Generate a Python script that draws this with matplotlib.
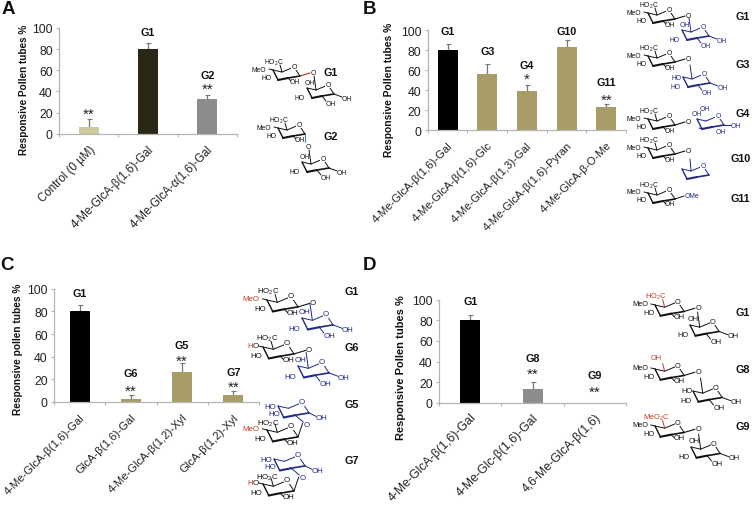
import matplotlib
matplotlib.use("Agg")
import matplotlib.pyplot as plt

plt.rcParams['font.family'] = ['Liberation Sans', 'DejaVu Sans']
plt.rcParams['mathtext.default'] = 'regular'

W, H = 752, 506
BLACK, OLIVE, GREY, PALE, DARK = '#000000', '#a89c68', '#8c8c8c', '#cfc9a0', '#2a2716'

# --- data ---
a_labels = ['Control (0 µM)', '4-Me-GlcA-β(1,6)-Gal', '4-Me-GlcA-α(1,6)-Gal']
a_values = [6, 80, 33]
a_errors = [7.5, 5.5, 4]
a_groups = ['', 'G1', 'G2']
a_stars = ['**', '', '**']

b_labels = ['4-Me-GlcA-β(1,6)-Gal', '4-Me-GlcA-β(1,6)-Glc', '4-Me-GlcA-β(1,3)-Gal',
            '4-Me-GlcA-β(1,6)-Pyran', '4-Me-GlcA-β-O-Me']
b_values = [80, 56, 39.5, 83, 23]
b_errors = [6, 10, 6, 7.5, 3.5]
b_groups = ['G1', 'G3', 'G4', 'G10', 'G11']
b_stars = ['', '', '*', '', '**']

c_labels = ['4-Me-GlcA-β(1,6)-Gal', 'GlcA-β(1,6)-Gal', '4-Me-GlcA-β(1,2)-Xyl', 'GlcA-β(1,2)-Xyl']
c_values = [80, 3, 26.5, 6.5]
c_errors = [6, 3.5, 7.5, 3.5]
c_groups = ['G1', 'G6', 'G5', 'G7']
c_stars = ['', '**', '**', '**']

d_labels = ['4-Me-GlcA-β(1,6)-Gal', '4-Me-Glc-β(1,6)-Gal', '4,6-Me-GlcA-β(1,6)']
d_values = [80, 13.5, 0]
d_errors = [5.5, 6.5, 0]
d_groups = ['G1', 'G8', 'G9']
d_stars = ['', '**', '**']

fig = plt.figure(figsize=(W / 100, H / 100), dpi=100, facecolor='white')


def panel(left, right, y0, y100, labels, values, errors, colors, groups, stars,
          group_y, star_y, ylabel, ylabel_x, ylabel_y, ylabel_size, tick_size, pad=7, bar_px=20):
    ax = fig.add_axes([left / W, 1 - y0 / H, (right - left) / W, (y0 - y100) / H])
    n = len(values)
    xs = list(range(n))
    width = bar_px / ((right - left) / n)
    ax.bar(xs, values, width=width, color=colors, linewidth=0, zorder=2)
    for i in xs:
        if values[i] > 0:
            ax.errorbar(i, values[i], yerr=[[0], [errors[i]]], color='#777777', elinewidth=0.9,
                        capsize=1.8, capthick=0.8, zorder=1)
        if groups[i]:
            ax.text(i, group_y[i], groups[i], ha='center', va='center', fontsize=7.8,
                    fontweight='bold', color='#111111', clip_on=False)
        if stars[i]:
            ax.text(i, star_y[i], stars[i], ha='center', va='center', fontsize=11,
                    color='#222222', clip_on=False)
    ax.set_xlim(-0.5, n - 0.5)
    ax.set_ylim(0, 100)
    ax.set_yticks(range(0, 101, 20))
    ax.set_xticks(xs)
    ax.set_xticklabels(labels, rotation=45, ha='right', rotation_mode='anchor',
                       fontsize=tick_size, color='#222222')
    ax.set_xticks([i - 0.5 for i in range(n + 1)], minor=True)
    ax.tick_params(axis='x', which='major', length=0, pad=pad)
    ax.tick_params(axis='x', which='minor', length=2.5, width=0.8, color='#b5b5b5')
    ax.tick_params(axis='y', length=2.5, width=0.8, color='#b5b5b5', labelsize=8.8,
                   labelcolor='#222222', pad=2)
    for s in ('top', 'right'):
        ax.spines[s].set_visible(False)
    for s in ('left', 'bottom'):
        ax.spines[s].set_color('#b5b5b5')
        ax.spines[s].set_linewidth(0.9)
    fig.text(ylabel_x / W, 1 - ylabel_y / H, ylabel, rotation=90, ha='center',
             va='center', fontsize=ylabel_size, fontweight='bold', color='#111111')
    return ax


panel(59, 237, 134.7, 29, a_labels, a_values, a_errors, [PALE, DARK, GREY], a_groups, a_stars,
      [0, 96, 55.5], [18.5, 0, 42.5], 'Responsive Pollen tubes %', 24, 90, 7.2, 8.3)
panel(427.7, 626, 131, 31, b_labels, b_values, b_errors, [BLACK, OLIVE, OLIVE, OLIVE, OLIVE],
      b_groups, b_stars, [99, 79, 65, 99, 48], [0, 0, 51, 0, 30], 'Responsive Pollen tubes %',
      389, 90, 7.4, 8.1)
panel(54, 259, 403, 289.7, c_labels, c_values, c_errors, [BLACK, OLIVE, OLIVE, OLIVE], c_groups,
      c_stars, [96.5, 26, 50, 26.5], [0, 10, 36, 13], 'Responsive pollen tubes %', 18, 349, 7.3, 8.1)
panel(439, 626, 403.7, 300.7, d_labels, d_values, d_errors, [BLACK, GREY, GREY], d_groups, d_stars,
      [98.7, 43, 27], [0, 28.5, 10.5], 'Responsive Pollen tubes %', 401, 368, 8.0, 8.9, pad=6)

# --- overlay in pixel coordinates: panel letters and chemical structures ---
ov = fig.add_axes([0, 0, 1, 1], facecolor='none')
ov.set_xlim(0, W)
ov.set_ylim(H, 0)
ov.axis('off')

for letter, lx, ly in [('A', 8, 9), ('B', 369.5, 9), ('C', 7, 265), ('D', 370, 265)]:
    ov.text(lx, ly, letter, fontsize=13.5, fontweight='bold', ha='center', va='center', color='#111111')

BLUE = '#1f2a86'
RED = '#c0392b'
KC = '#111111'
C4, C5, O5, C1, C2, C3 = (0, 0), (9, 2), (21, -3), (27, 6), (15, 8), (5, 10)
S = 1.0


def seg(x, y, p, q, color, lw=0.7):
    ov.plot([x + S * p[0], x + S * q[0]], [y + S * p[1], y + S * q[1]], color=color, lw=lw,
            solid_capstyle='round')


def lab(x, y, dx, dy, s, color=KC):
    ov.text(x + S * dx, y + S * dy, s, fontsize=4.9 * S, color=color, ha='center', va='center')


def ring(x, y, color):
    for p, q in [(C4, C5), (C5, O5), (O5, C1)]:
        seg(x, y, p, q, color)
    seg(x, y, C4, C3, color, 1.0)
    seg(x, y, C3, C2, color, 1.5)
    seg(x, y, C2, C1, color, 1.2)
    ov.text(x + S * O5[0], y + S * (O5[1] - 0.5), 'O', fontsize=4.9 * S, color=color, ha='center',
            va='center', bbox=dict(fc='white', ec='none', pad=0.2))


def acid(x, y, acid_s='HO$_2$C', acid_c=KC, me='MeO', me_c=KC, link='O', link_color=KC, acid_dy=-8):
    """Upper glucuronic-acid-type ring, with its anomeric oxygen."""
    ring(x, y, KC)
    seg(x, y, C5, (7, -5), acid_c)
    lab(x, y, 1 if me == 'MeO' else 3.5, acid_dy, acid_s, acid_c)
    seg(x, y, C4, (-4, -1), KC)
    if me == 'MeO':
        lab(x, y, -14, -1, me, me_c)
    else:
        lab(x, y, -11.5, -1.5, 'H', RED)
        lab(x, y, -6.5, -1.5, 'O')
    lab(x, y, -6, 7, 'HO')
    seg(x, y, C2, (18, 11), KC)
    lab(x, y, 22, 11, 'OH')
    if link:
        seg(x, y, C1, (37, 3), link_color, 0.8)
        lab(x, y, 40, 2, link)


def hexose(x, y, color=KC, top='OH'):
    """Lower ring linked upward by C6 to the anomeric oxygen."""
    ring(x, y, color)
    if top:
        lab(x, y, 2.5, -6, top, color)
    seg(x, y, C5, (7, -12), color)
    lab(x, y, -7, 9, 'HO', color)
    seg(x, y, C2, (19, 13), color)
    lab(x, y, 24, 15, 'OH', color)
    seg(x, y, C1, (35, 9), color)
    lab(x, y, 40, 10, 'OH', color)


def xylose(x, y, color=BLUE):
    """Top xylose ring of the (1,2)-linked disaccharides."""
    ring(x, y, color)
    lab(x, y, -7, 0.5, 'HO', color)
    lab(x, y, -3, 6.8, 'HO', color)
    seg(x, y, C1, (33, 9), color)
    lab(x, y, 38, 10, 'OH', color)
    seg(x, y, C2, (22, 14), color)
    lab(x, y, 25, 16, 'O', color)


def group(x, y, s):
    ov.text(x, y, s, fontsize=7.8, fontweight='bold', ha='center', va='center', color='#111111')


# Panel A
S = 1.0
acid(273, 71, link_color='#b03020')
hexose(307, 89)
group(331, 73, 'G1')
acid(278, 129, link='')
seg(278, 129, C1, (27, 14), '#4a78c0', 0.8)
lab(278, 129, 30, 18, 'O')
hexose(302, 163)
group(331, 137, 'G2')

# Panel B
acid(648, 14)
hexose(682, 31, BLUE)
group(743, 17, 'G1')
acid(648, 57)
hexose(683, 78, BLUE, top='')
lab(683, 78, -6, 0, 'HO', BLUE)
group(743, 65, 'G3')
acid(648, 120)
ring(697, 120, BLUE)
lab(697, 120, 0, -6, 'OH', BLUE)
lab(697, 120, 8, -11, 'OH', BLUE)
seg(697, 120, C3, (2, 9), BLUE)
lab(697, 120, 24, 12, 'OH', BLUE)
lab(697, 120, 39, 6, 'OH', BLUE)
seg(697, 120, C1, (34, 6), BLUE)
group(743, 114, 'G4')
acid(648, 149)
ring(682, 170, BLUE)
seg(682, 170, C5, (8, -10), BLUE)
group(741, 159, 'G10')
acid(648, 194, link='')
seg(648, 194, C1, (36, 3), KC)
lab(648, 194, 44, 3, 'OMe', BLUE)
group(740, 199, 'G11')

# Panel C
S = 1.15
acid(267, 301, me_c=RED)
hexose(302, 319, BLUE)
group(352, 292, 'G1')
acid(263, 348, me='H', me_c=RED)
hexose(298, 367, BLUE)
group(352, 348, 'G6')
xylose(278, 407)
acid(267, 431, me_c=RED, link='', acid_dy=-6.5)
seg(267, 431, C1, (31, -6), KC)
group(352, 405, 'G5')
xylose(274, 460)
acid(263, 485, me='H', me_c=RED, link='', acid_dy=-6.5)
seg(263, 485, C1, (31, -6), KC)
group(352, 461, 'G7')

# Panel D
S = 1.08
acid(655, 306, acid_c=RED)
hexose(690, 326)
group(743, 313, 'G1')
acid(655, 370, acid_s='OH', acid_c=RED, acid_dy=-11)
hexose(693, 392, top='')
lab(693, 392, -6, 0, 'HO')
group(743, 370, 'G8')
acid(655, 427, acid_s='MeO$_2$C', acid_c=RED)
hexose(691, 448)
group(743, 427, 'G9')

fig.savefig('out.png', dpi=100)
